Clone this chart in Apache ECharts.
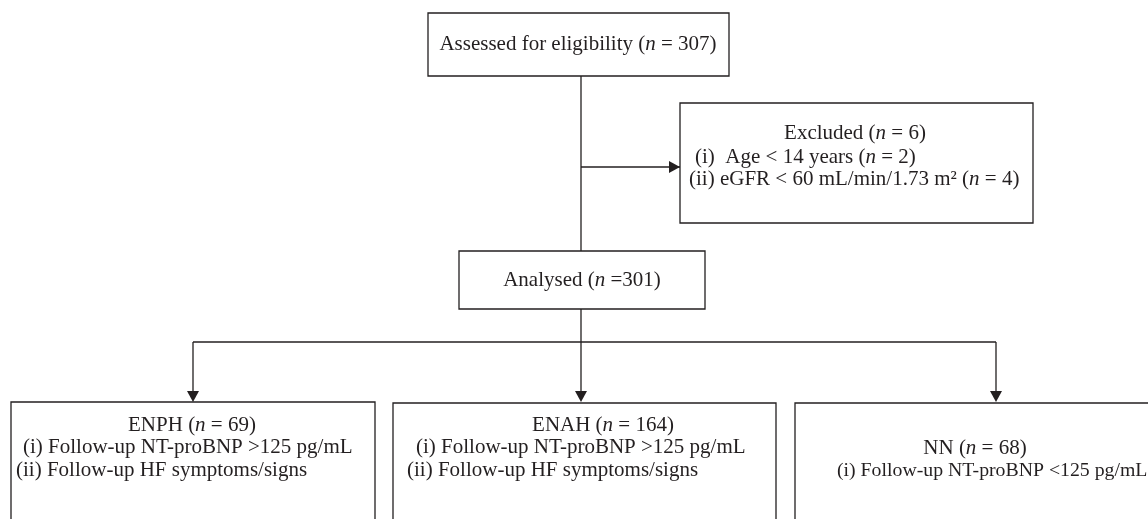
<!DOCTYPE html>
<html>
<head>
<meta charset="utf-8">
<script src="https://cdn.jsdelivr.net/npm/echarts@6/dist/echarts.min.js"></script>
<style>
  html, body { margin: 0; padding: 0; background: #fff; }
  #chart { width: 1148px; height: 519px; }
</style>
</head>
<body>
<div id="chart"></div>
<script>
// flow chart content
const assessedText = 'Assessed for eligibility (n = 307)'
const excludedTitle = 'Excluded (n = 6)'
const excludedItems = ['(i)  Age < 14 years (n = 2)', '(ii) eGFR < 60 mL/min/1.73 m² (n = 4)']
const analysedText = 'Analysed (n =301)'
const groupTitles = ['ENPH (n = 69)', 'ENAH (n = 164)', 'NN (n = 68)']
const groupItems = [
  ['(i) Follow-up NT-proBNP >125 pg/mL', '(ii) Follow-up HF symptoms/signs'],
  ['(i) Follow-up NT-proBNP >125 pg/mL', '(ii) Follow-up HF symptoms/signs'],
  ['(i) Follow-up NT-proBNP <125 pg/mL']
]

const ink = '#231f20'
const family = '"Liberation Serif", "DejaVu Serif", serif'

// italic n
function rt(s) {
  return s.replace(/\(n(?=\s|=)/g, '({i|n}')
}

function box(x1, y1, x2, y2) {
  return { type: 'rect', shape: { x: x1, y: y1, width: x2 - x1, height: y2 - y1 },
    style: { fill: '#fff', stroke: ink, lineWidth: 1.3 }, z: 1 }
}
function line(x1, y1, x2, y2) {
  return { type: 'line', shape: { x1: x1, y1: y1, x2: x2, y2: y2 },
    style: { stroke: ink, lineWidth: 1.3 }, z: 2 }
}
function arrowDown(x, y) {
  return { type: 'polygon', shape: { points: [[x - 6, y - 11], [x + 6, y - 11], [x, y]] },
    style: { fill: ink }, z: 3 }
}
function arrowRight(x, y) {
  return { type: 'polygon', shape: { points: [[x - 11, y - 6], [x - 11, y + 6], [x, y]] },
    style: { fill: ink }, z: 3 }
}
function text(s, x, y, align, size) {
  size = size || 21
  return { type: 'text', z: 4, style: {
    text: rt(s), x: x, y: y, align: align || 'center', verticalAlign: 'middle',
    font: size + 'px ' + family, fill: ink,
    rich: { i: { fontStyle: 'italic', fontSize: size, fontFamily: family, fill: ink } }
  } }
}

const els = []
// top box
els.push(box(428, 13, 729, 76))
els.push(text(assessedText, 578, 44))
els.push(line(581, 76, 581, 251))
// exclusion branch
els.push(line(581, 167, 680, 167))
els.push(arrowRight(680, 167))
els.push(box(680, 103, 1033, 223))
els.push(text(excludedTitle, 855, 133))
els.push(text(excludedItems[0], 695, 157, 'left'))
els.push(text(excludedItems[1], 689, 179, 'left'))
// analysed
els.push(box(459, 251, 705, 309))
els.push(text(analysedText, 582, 280))
els.push(line(581, 309, 581, 342))
els.push(line(193, 342, 996, 342))
const drops = [193, 581, 996]
drops.forEach(function (x) {
  els.push(line(x, 342, x, 396))
  els.push(arrowDown(x, 402))
})
// group boxes
els.push(box(11, 402, 375, 535))
els.push(box(393, 403, 776, 535))
els.push(box(795, 403, 1165, 535))
els.push(text(groupTitles[0], 192, 425))
els.push(text(groupItems[0][0], 23, 447, 'left'))
els.push(text(groupItems[0][1], 16, 470, 'left'))
els.push(text(groupTitles[1], 603, 425))
els.push(text(groupItems[1][0], 416, 447, 'left'))
els.push(text(groupItems[1][1], 407, 470, 'left'))
els.push(text(groupTitles[2], 975, 448))
els.push(text(groupItems[2][0], 837, 471, 'left', 19.8))

const myChart = echarts.init(document.getElementById('chart'))
myChart.setOption({
  backgroundColor: '#fff',
  animation: false,
  graphic: { elements: els }
})
</script>
</body>
</html>
